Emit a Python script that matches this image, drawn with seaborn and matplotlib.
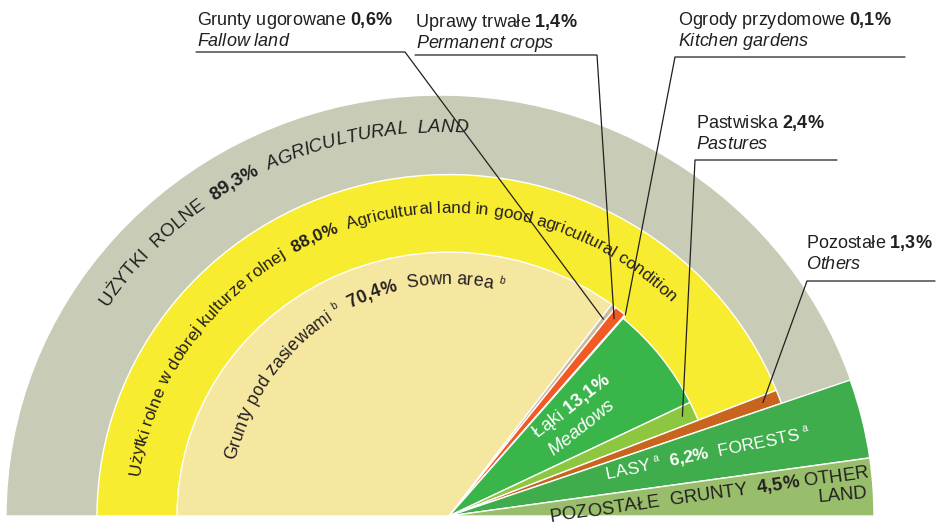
import numpy as np
import matplotlib
matplotlib.use('Agg')
import matplotlib.pyplot as plt
from matplotlib.patches import Wedge
from matplotlib.transforms import Affine2D
from matplotlib.font_manager import FontProperties, findfont, get_font
import seaborn as sns

# land use structure, % of total area
categories = ['Grunty pod zasiewami', 'Grunty ugorowane', 'Uprawy trwałe',
              'Ogrody przydomowe', 'Łąki', 'Pastwiska', 'Pozostałe',
              'Lasy', 'Pozostałe grunty']
shares = [70.4, 0.6, 1.4, 0.1, 13.1, 2.4, 1.3, 6.2, 4.5]
agri_total = 89.3      # użytki rolne
good_total = 88.0      # w dobrej kulturze rolnej

colors = ['#f5e6a0', '#c9b99f', '#f15a24', '#d4502a', '#39b54a',
          '#8dc63f', '#c8641e', '#40ad4c', '#98bd6b']
radii = [272, 272, 272, 272, 268, 268, 352, 425, 425]
TXT = '#231f20'

W, H, DPI = 945, 527, 100
CX, CY = 449, 516
K = 0.97

sns.set_theme(style='white')
plt.rcParams['font.family'] = ['Liberation Sans', 'DejaVu Sans']

fig = plt.figure(figsize=(W / DPI, H / DPI), dpi=DPI)
ax = fig.add_axes([0, 0, 1, 1])
ax.set_xlim(-CX, W - CX)
ax.set_ylim(-(H - CY) / K, CY / K)
ax.axis('off')
img = Affine2D().scale(1 / W, -1 / H).translate(0, 1) + fig.transFigure


def ang(cum):
    return 180 - 1.8 * cum


edges = np.concatenate([[0], np.cumsum(shares)])

# outer ring (agricultural land) and good-condition ring
ax.add_patch(Wedge((-9, 0), 434, ang((edges[7] + edges[8]) / 2), 180,
                   fc='#c8ccb7', ec='white', lw=1))
ax.add_patch(Wedge((0, 0), 352, ang(good_total), 180,
                   fc='#f8ec31', ec='white', lw=1))
for i in range(len(shares)):
    ax.add_patch(Wedge((0, 0), radii[i], ang(edges[i + 1]), ang(edges[i]),
                       fc=colors[i], ec='white', lw=1))


def fprop(size, weight='normal', style='normal'):
    return FontProperties(family='Liberation Sans', size=size,
                          weight=weight, style=style)


def adv(c, fp):
    font = get_font(findfont(fp))
    font.set_size(fp.get_size_in_points(), DPI)
    return font.load_char(ord(c)).linearHoriAdvance / 65536


def run_text(segments, path, color=TXT):
    s = 0
    for txt, fp, rise in segments:
        for c in txt:
            a = adv(c, fp)
            if c != ' ':
                x, y, _ = path(s, rise)
                rot = path(s + a / 2, rise)[2]
                ax.text(x, y, c, fontproperties=fp, color=color, rotation=rot,
                        ha='left', va='baseline', rotation_mode='anchor',
                        transform=img)
            s += a


def arc(cx, cy, rx, ry, th0):
    th = np.radians(np.linspace(th0, th0 - 200, 4000))
    seg = np.hypot(np.diff(rx * np.cos(th)), np.diff(ry * np.sin(th)))
    length = np.concatenate([[0], np.cumsum(seg)])

    def f(s, rise):
        t = np.interp(s, length, th)
        x = cx + (rx + rise) * np.cos(t)
        y = cy - (ry + rise) * np.sin(t)
        rot = np.degrees(np.arctan2(-ry * np.cos(t), rx * np.sin(t)))
        return x, y, rot
    return f


def line(x0, y0, alpha):
    a = np.radians(alpha)

    def f(s, rise):
        return (x0 + s * np.cos(a) - rise * np.sin(a),
                y0 - s * np.sin(a) - rise * np.cos(a), alpha)
    return f


def pct(v):
    return f'{v:.1f}%'.replace('.', ',')


# curved ring labels
g_r, g_b, g_i = fprop(13.4), fprop(13.4, 'bold'), fprop(13.4, style='italic')
run_text([('UŻYTKI  ROLNE  ', g_r, 0), (pct(agri_total), g_b, 0),
          ('  AGRICULTURAL  LAND', g_i, 0)], arc(440, CY, 396, 384, 147))

y_r, y_b = fprop(12.4), fprop(12.4, 'bold')
run_text([('Użytki rolne w dobrej kulturze rolnej  ', y_r, 0),
          (pct(good_total), y_b, 0),
          ('  Agricultural land in good agricultural condition', y_r, 0)],
         arc(CX, CY, 312, 303, 172.5))

b_r, b_b, b_s = fprop(12.8), fprop(12.8, 'bold'), fprop(7.5)
run_text([('Grunty pod zasiewami ', b_r, 0), ('b', b_s, 7), ('  ', b_r, 0),
          (pct(shares[0]), b_b, 0), ('  Sown area ', b_r, 0), ('b', b_s, 7)],
         arc(CX, CY, 220, 232, 166))

# straight labels inside wedges
w_r, w_b, w_i = fprop(13.3), fprop(13.3, 'bold'), fprop(13.3, style='italic')
run_text([('Łąki ', w_r, 0), (pct(shares[4]), w_b, 0)], line(538, 438, 38), 'white')
run_text([('Meadows', w_i, 0)], line(553, 456, 38), 'white')

l_r, l_b, l_s = fprop(12.5), fprop(12.5, 'bold'), fprop(7.5)
run_text([('LASY ', l_r, 0), ('a', l_s, 7), ('  ', l_r, 0), (pct(shares[7]), l_b, 0),
          ('  FORESTS ', l_r, 0), ('a', l_s, 7)], line(607, 479, 11.5), 'white')

o_r, o_b = fprop(13.3), fprop(13.3, 'bold')
run_text([('POZOSTAŁE  GRUNTY  ', o_r, 0), (pct(shares[8]), o_b, 0), (' OTHER', o_r, 0)],
         line(550, 522, 8))
ax.text(868, 498, 'LAND', fontproperties=o_r, color=TXT, rotation=5,
        ha='right', va='baseline', rotation_mode='anchor', transform=img)

# callout labels with leader lines
t_r, t_b, t_i = fprop(13), fprop(13, 'bold'), fprop(13, style='italic')
callouts = [
    # idx, text x, baseline y, elbow x0, elbow x1, elbow y, tip radius
    (1, 197, 25, 196, 405, 52, 255),
    (2, 416, 27, 415, 597, 55, 262),
    (3, 678, 25, 905, 675, 57, 272),
    (5, 696, 128, 837, 695, 160, 255),
    (6, 806, 248, 935, 807, 281, 335),
]
english = {1: 'Fallow land', 2: 'Permanent crops', 3: 'Kitchen gardens',
           5: 'Pastures', 6: 'Others'}
for idx, x, y, ex0, ex1, ey, tr in callouts:
    run_text([(categories[idx] + ' ', t_r, 0), (pct(shares[idx]), t_b, 0)], line(x, y, 0))
    run_text([(english[idx], t_i, 0)], line(x, y + 21, 0))
    mid = np.radians(ang((edges[idx] + edges[idx + 1]) / 2))
    tx, ty = CX + tr * np.cos(mid), CY - K * tr * np.sin(mid)
    ax.plot([ex0, ex1, tx], [ey, ey, ty], color=TXT, lw=0.9, transform=img)

fig.savefig('out.png', dpi=DPI, facecolor='white')
